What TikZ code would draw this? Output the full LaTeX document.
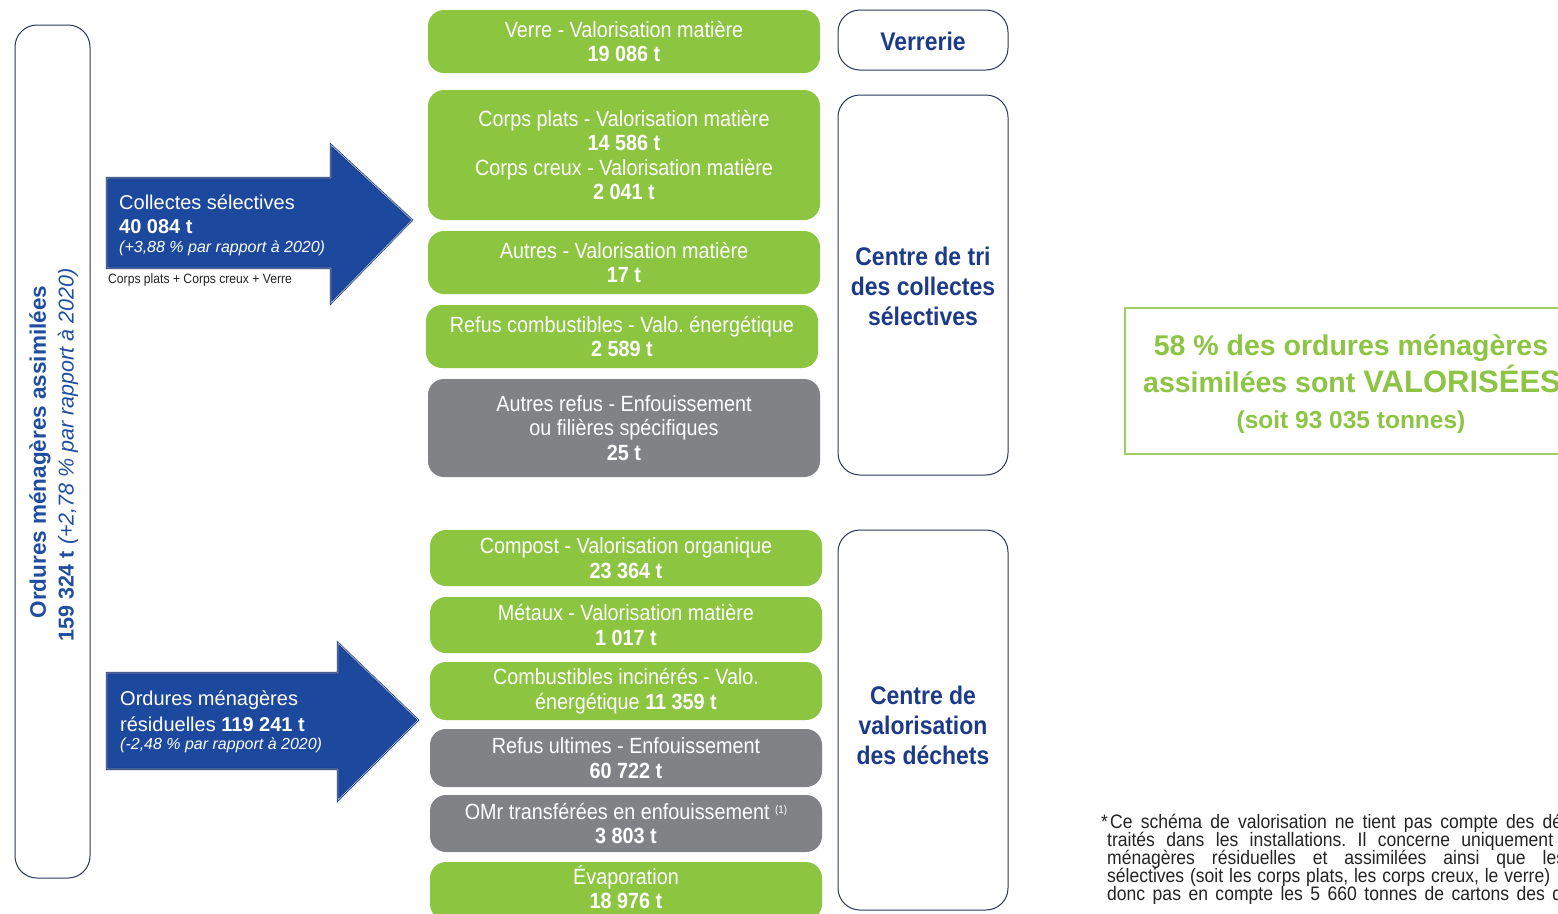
\documentclass[tikz,border=0pt]{standalone}
\usepackage{fontspec}
\setmainfont{Liberation Sans}
\newfontfamily\condfont[FakeStretch=0.9]{Liberation Sans}
\frenchspacing
\definecolor{vgreen}{RGB}{140,197,64}
\definecolor{lgreen}{RGB}{160,205,100}
\definecolor{pctgreen}{RGB}{141,196,68}
\definecolor{vgray}{RGB}{128,130,134}
\definecolor{arrowblue}{RGB}{28,72,158}
\definecolor{arrowdark}{RGB}{25,50,110}
\definecolor{arrowlight}{RGB}{150,175,215}
\definecolor{txtblue}{RGB}{31,78,160}
\definecolor{navy}{RGB}{28,58,135}
\definecolor{outl}{RGB}{45,55,90}
\definecolor{notegray}{RGB}{35,35,35}
\tikzset{
  gbox/.style={fill=vgreen, rounded corners=16pt, inner sep=0pt, text=white, align=center,
    minimum width=392pt, font=\condfont\fontsize{22}{24.5}\selectfont},
  graybox/.style={gbox, fill=vgray},
  gtxt/.style={inner sep=0pt, text=white, align=center, font=\condfont\fontsize{22}{24.5}\selectfont},
  obox/.style={draw=outl, line width=1pt, rounded corners=22pt, inner sep=0pt, minimum width=170pt},
  otxt/.style={text=navy, align=center, inner sep=0pt, font=\condfont\bfseries\fontsize{25.5}{30}\selectfont},
  arrowshape/.style={fill=arrowblue, draw=arrowdark, double=arrowlight, double distance=0.9pt, line width=0.6pt, line join=miter},
  arrowtxt/.style={anchor=west, inner sep=0pt, text=white, font=\fontsize{20}{24}\selectfont},
  arrowsmall/.style={anchor=west, inner sep=0pt, text=white, font=\itshape\fontsize{16}{19}\selectfont},
  notetxt/.style={anchor=west, inner sep=0pt, text=notegray, font=\condfont\fontsize{13.5}{16}\selectfont},
  pcttxt/.style={anchor=base, inner sep=0pt, text=pctgreen, font=\bfseries\fontsize{28.5}{34}\selectfont},
  foot/.style={anchor=base west, inner sep=0pt, text=notegray, font=\condfont\fontsize{19.5}{18}\selectfont},
}
\begin{document}
\begin{tikzpicture}[x=1pt,y=-1pt]
\useasboundingbox (0,0) rectangle (1558,913);
\clip (0,0) rectangle (1558,913);
\fill[white] (0,0) rectangle (1558,913);

% left vertical box
\node[draw=outl, line width=1pt, rounded corners=22pt, minimum width=75pt, minimum height=853pt, inner sep=0pt] (omabox) at (52.5,451.5) {};
\node[rotate=90, inner sep=0pt, text=txtblue, font=\bfseries\fontsize{22.5}{27}\selectfont] (omatitle) at (40,452) {Ordures ménagères assimilées};
\node[rotate=90, inner sep=0pt, text=txtblue, font=\fontsize{21.5}{26}\selectfont] (omaval) at (68,455) {\textbf{159 324 t} \textit{(+2,78 \% par rapport à 2020)}};

% arrows
\path[arrowshape] (107,178) -- (331,178) -- (331,145) -- (412,220) -- (331,303) -- (331,268) -- (107,268) -- cycle;
\node[arrowtxt] (cs1) at (119,202) {Collectes sélectives};
\node[arrowtxt] (cs2) at (119,227) {\textbf{40 084 t}};
\node[arrowsmall] (cs3) at (119,248) {(+3,88 \% par rapport à 2020)};
\node[notetxt] (cs4) at (108,280) {Corps plats + Corps creux + Verre};

\path[arrowshape] (107,673) -- (338,673) -- (338,643) -- (418,720) -- (338,800) -- (338,769) -- (107,769) -- cycle;
\node[arrowtxt] (om1) at (120,700) {Ordures ménagères};
\node[arrowtxt] (om2) at (120,724) {résiduelles \textbf{119 241 t}};
\node[arrowsmall] (om3) at (120,745) {(-2,48 \% par rapport à 2020)};

% green / gray boxes, group 1
\node[gbox, minimum height=63pt] (verre) at (624,41.5) {Verre - Valorisation matière\\\textbf{19 086 t}};
\node[gbox, minimum height=130pt] (corps) at (624,155) {Corps plats - Valorisation matière\\\textbf{14 586 t}\\Corps creux - Valorisation matière\\\textbf{2 041 t}};
\node[gbox, minimum height=63pt] (autres) at (624,262.5) {Autres - Valorisation matière\\\textbf{17 t}};
\node[gbox, minimum height=63pt] (refus) at (622,336.5) {Refus combustibles - Valo. énergétique\\\textbf{2 589 t}};
\node[graybox, minimum height=98pt] (autrefus) at (624,428) {Autres refus - Enfouissement\\ou filières spécifiques\\\textbf{25 t}};

% group 2
\node[gbox, minimum height=56pt] (compost) at (626,558) {Compost - Valorisation organique\\\textbf{23 364 t}};
\node[gbox, minimum height=56pt] (metaux) at (626,625) {Métaux - Valorisation matière\\\textbf{1 017 t}};
\node[gbox, minimum height=58pt] (combust) at (626,691) {Combustibles incinérés - Valo.\\énergétique \textbf{11 359 t}};
\node[graybox, minimum height=58pt] (ultimes) at (626,758) {Refus ultimes - Enfouissement\\\textbf{60 722 t}};
\node[graybox, minimum height=57pt] (omr) at (626,823.5) {OMr transférées en enfouissement \raisebox{0.5ex}{\fontsize{11}{12}\selectfont(1)}\\\textbf{3 803 t}};
\node[gbox, minimum height=58pt] (evap) at (626,891) {};
\node[gtxt] (evaptxt) at (626,887) {Évaporation\\\textbf{18 976 t}};

% outline boxes
\node[obox, minimum height=60pt] (verrerie) at (923,40) {};
\node[otxt] (verrerietxt) at (923,41) {Verrerie};
\node[obox, minimum height=380pt] (tri) at (923,285) {};
\node[otxt] (tritxt) at (923,286) {Centre de tri\\des collectes\\sélectives};
\node[obox, minimum height=380pt] (valo) at (923,720) {};
\node[otxt] (valotxt) at (923,725) {Centre de\\valorisation\\des déchets};

% 58 % box
\node[draw=lgreen, line width=1.3pt, minimum width=455pt, minimum height=146pt, inner sep=0pt] (valbox) at (1352.5,381) {};
\node[pcttxt] (pct1) at (1351,355) {58 \% des ordures ménagères};
\node[pcttxt] (pct2) at (1352,392) {assimilées sont {\fontsize{31}{34}\selectfont VALORISÉES}};
\node[pcttxt, font=\bfseries\fontsize{24.5}{30}\selectfont] (pct3) at (1351,428) {(soit 93 035 tonnes)};

% footnote
\node[foot] (fstar) at (1101,828) {*};
\node[foot] (f1) at (1110,828) {\makebox[452pt][s]{Ce schéma de valorisation ne tient pas compte des dé}};
\node[foot] (f2) at (1107,846) {\makebox[446pt][s]{traités dans les installations. Il concerne uniquement}};
\node[foot] (f3) at (1107,864) {\makebox[458pt][s]{ménagères résiduelles et assimilées ainsi que les}};
\node[foot] (f4) at (1107,882) {\makebox[443pt][s]{sélectives (soit les corps plats, les corps creux, le verre)}};
\node[foot] (f5) at (1107,900) {\makebox[455pt][s]{donc pas en compte les 5 660 tonnes de cartons des d}};
\end{tikzpicture}
\end{document}
